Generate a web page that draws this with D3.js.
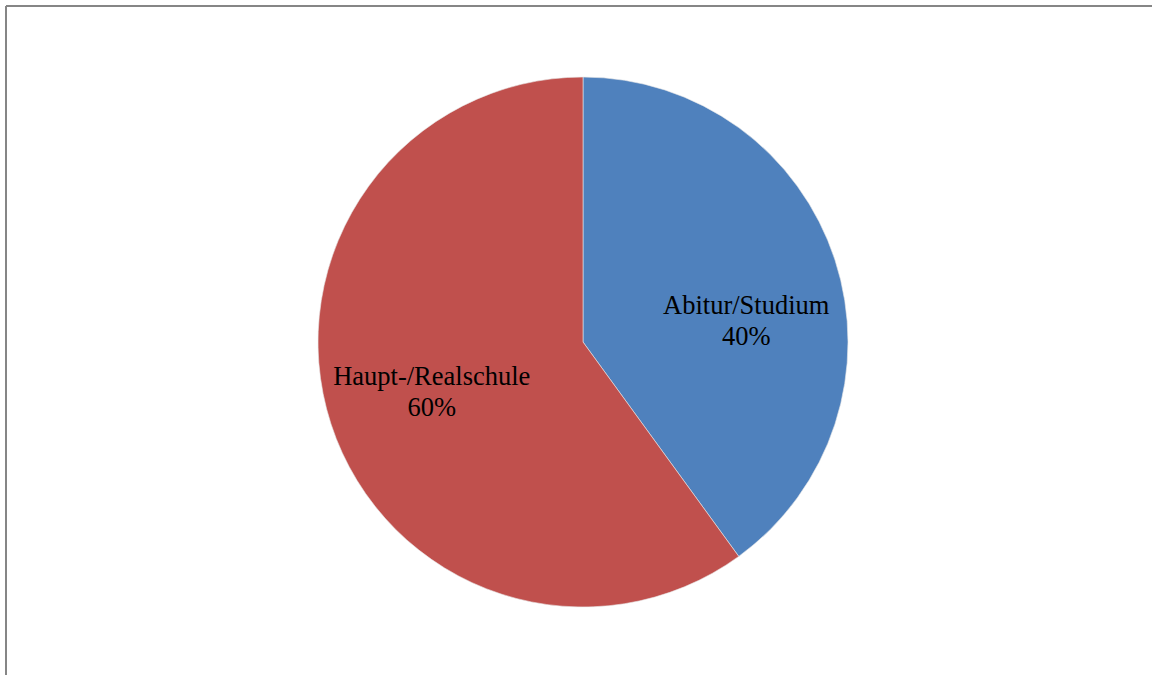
<!DOCTYPE html>
<html>
<head>
<meta charset="utf-8">
<script src="https://cdn.jsdelivr.net/npm/d3@7"></script>
<style>
  html, body { margin: 0; padding: 0; background: #fff; }
  svg { display: block; }
</style>
</head>
<body>
<svg id="chart" width="1152" height="675"></svg>
<script>
// Share of respondents by school-leaving qualification
const categories = ["Abitur/Studium", "Haupt-/Realschule"];
const values = [40, 60];
const colors = ["#4F81BD", "#C0504D"];

const svg = d3.select("#chart");
const W = 1152, H = 675;

// Chart area frame (top and left edges visible)
svg.append("line").attr("x1", 6).attr("y1", 6).attr("x2", W).attr("y2", 6)
  .attr("stroke", "#868686").attr("stroke-width", 2);
svg.append("line").attr("x1", 6).attr("y1", 6).attr("x2", 6).attr("y2", H)
  .attr("stroke", "#868686").attr("stroke-width", 2);

const cx = 583, cy = 342, r = 265;
const data = categories.map((c, i) => ({ name: c, value: values[i], color: colors[i] }));

const pie = d3.pie().sort(null).value(d => d.value);
const arcs = pie(data);
const arc = d3.arc().innerRadius(0).outerRadius(r);
const labelR = 159;
const labelArc = d3.arc().innerRadius(labelR).outerRadius(labelR);
// best-fit offsets applied to each label after placing it at the slice centroid
const labelShift = [[12, 27], [0, 0]];

const g = svg.append("g").attr("transform", `translate(${cx},${cy})`);

g.selectAll("path.slice").data(arcs).enter().append("path")
  .attr("class", "slice")
  .attr("d", arc)
  .attr("fill", d => d.data.color)
  .attr("stroke", "#e8e8e8")
  .attr("stroke-width", 0.6);

const total = d3.sum(values);
const labels = g.selectAll("text.lbl").data(arcs).enter().append("text")
  .attr("class", "lbl")
  .attr("transform", (d, i) => {
    const [x, y] = labelArc.centroid(d);
    return `translate(${x + labelShift[i][0]},${y + labelShift[i][1]})`;
  })
  .attr("text-anchor", "middle")
  .attr("font-family", "'Liberation Serif', 'Times New Roman', serif")
  .attr("font-size", 26.5)
  .attr("fill", "#000");

labels.append("tspan").attr("x", 0).attr("y", -6).text(d => d.data.name);
labels.append("tspan").attr("x", 0).attr("y", 25)
  .text(d => Math.round(d.data.value / total * 100) + "%");
</script>
</body>
</html>
